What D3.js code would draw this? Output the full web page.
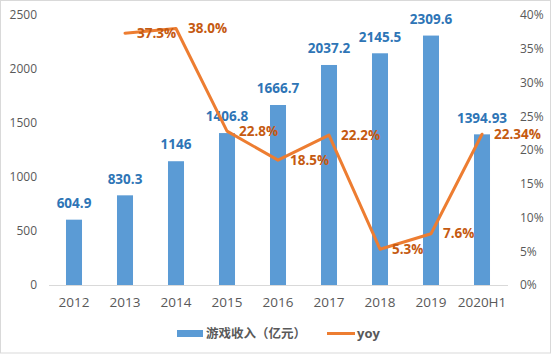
<!DOCTYPE html>
<html><head><meta charset="utf-8">
<script src="https://cdn.jsdelivr.net/npm/d3@7"></script>
<style>
html,body{margin:0;padding:0;background:#fff;}
svg{display:block;font-family:"Open Sans","Noto Sans CJK SC",sans-serif;}
</style></head>
<body>
<svg id="chart" width="554" height="355"></svg>
<script>
const categories = ["2012","2013","2014","2015","2016","2017","2018","2019","2020H1"];
const revenue = [604.9, 830.3, 1146, 1406.8, 1666.7, 2037.2, 2145.5, 2309.6, 1394.93];
const revenueLabels = ["604.9","830.3","1146","1406.8","1666.7","2037.2","2145.5","2309.6","1394.93"];
const yoy = [null, 0.373, 0.380, 0.228, 0.185, 0.222, 0.053, 0.076, 0.2234];
const yoyLabels = [null, "37.3%", "38.0%", "22.8%", "18.5%", "22.2%", "5.3%", "7.6%", "22.34%"];
const leftTicks = [0, 500, 1000, 1500, 2000, 2500];
const rightTicks = [0, 0.05, 0.10, 0.15, 0.20, 0.25, 0.30, 0.35, 0.40];
const seriesNames = ["游戏收入（亿元）", "yoy"];

const svg = d3.select("#chart");
svg.append("rect").attr("x",0.5).attr("y",0.5).attr("width",550).attr("height",352.5)
  .attr("fill","#fff").attr("stroke","#d9d9d9");

const x = d3.scaleBand().domain(categories).range([48.5, 507.5]).paddingInner(0.686).paddingOuter(0.343);
const yL = d3.scaleLinear().domain([0, 2500]).range([285, 15]);
const yR = d3.scaleLinear().domain([0, 0.4]).range([285, 15]);

// left axis
const gL = svg.append("g").attr("transform","translate(48,0)")
  .call(d3.axisLeft(yL).tickValues(leftTicks).tickSize(0).tickPadding(11).tickFormat(d3.format("d")));
gL.select(".domain").remove();
gL.selectAll("text").attr("fill","#595959").style("font-size","12px").style("font-family","'Open Sans',sans-serif");

// right axis
const gR = svg.append("g").attr("transform","translate(508,0)")
  .call(d3.axisRight(yR).tickValues(rightTicks).tickSize(0).tickPadding(12).tickFormat(d3.format(".0%")));
gR.select(".domain").remove();
gR.selectAll("text").attr("fill","#595959").style("font-size","12px").style("font-family","'Open Sans',sans-serif");

// bars
svg.append("g").selectAll("rect").data(categories).join("rect")
  .attr("x", d => x(d)).attr("width", x.bandwidth())
  .attr("y", (d,i) => yL(revenue[i])).attr("height", (d,i) => yL(0) - yL(revenue[i]))
  .attr("fill","#5B9BD5");

// bottom axis
const gX = svg.append("g").attr("transform","translate(0,285)")
  .call(d3.axisBottom(x).tickSize(0).tickPadding(12));
gX.select(".domain").attr("stroke","#d9d9d9").attr("stroke-width",1);
gX.selectAll("text").attr("fill","#595959").style("font-size","13.5px").style("font-family","'Open Sans',sans-serif");

// bar labels
svg.append("g").selectAll("text").data(categories).join("text")
  .attr("x", d => x(d) + x.bandwidth()/2)
  .attr("y", (d,i) => yL(revenue[i]) - 16.5)
  .attr("dy","0.35em").attr("text-anchor","middle")
  .attr("fill","#2E75B6").style("font-weight","bold").style("font-size","13.5px")
  .text((d,i) => revenueLabels[i]);

// yoy line
const pts = categories.map((c,i) => ({c, v: yoy[i], l: yoyLabels[i]})).filter(p => p.v !== null);
const line = d3.line().x(p => x(p.c) + x.bandwidth()/2).y(p => yR(p.v));
svg.append("path").datum(pts).attr("d", line).attr("fill","none")
  .attr("stroke","#ED7D31").attr("stroke-width",3).attr("stroke-linejoin","round").attr("stroke-linecap","round");

svg.append("g").selectAll("text").data(pts).join("text")
  .attr("x", p => x(p.c) + x.bandwidth()/2 + 12)
  .attr("y", p => yR(p.v))
  .attr("dy","0.35em")
  .attr("fill","#C55A11").style("font-weight","bold").style("font-size","13.5px")
  .text(p => p.l);

// legend
const lg = svg.append("g");
lg.append("rect").attr("x",177).attr("y",330).attr("width",26).attr("height",7).attr("fill","#5B9BD5");
lg.append("text").attr("x",206).attr("y",334).attr("dy","0.35em").attr("fill","#595959")
  .style("font-size","12.5px").style("font-weight","bold").style("font-family","'Noto Sans CJK SC',sans-serif").text(seriesNames[0]);
lg.append("line").attr("x1",327).attr("x2",355).attr("y1",333.5).attr("y2",333.5)
  .attr("stroke","#ED7D31").attr("stroke-width",3);
lg.append("text").attr("x",357).attr("y",333).attr("dy","0.35em").attr("fill","#595959")
  .style("font-size","13px").style("font-weight","bold").text(seriesNames[1]);
</script>
</body></html>
